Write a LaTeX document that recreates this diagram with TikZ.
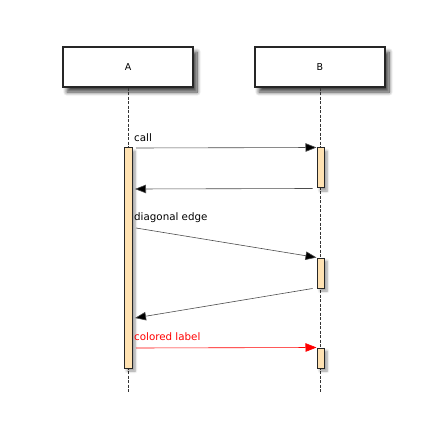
\documentclass[tikz,border=0pt]{standalone}
\usepackage{fontspec}
\setmainfont{DejaVu Sans}
\usetikzlibrary{shadows.blur,arrows.meta}
\definecolor{actfill}{RGB}{255,226,178}
\tikzset{
  objbox/.style={draw=black!85, line width=1.2pt, fill=white, minimum width=130pt, minimum height=40pt, inner sep=0pt, font=\fontsize{9.5}{11}\selectfont,
    blur shadow={shadow xshift=4pt, shadow yshift=-5pt, shadow blur radius=4pt, shadow blur steps=10, shadow opacity=75}},
  actbox/.style={draw=black!85, line width=1pt, fill=actfill, minimum width=7pt, inner sep=0pt,
    blur shadow={shadow xshift=3pt, shadow yshift=-3pt, shadow blur radius=2.5pt, shadow blur steps=6, shadow opacity=40}},
  lifeline/.style={draw=black!80, line width=0.9pt, dash pattern=on 3pt off 1.5pt},
  msg/.style={draw=black!70, line width=0.6pt, -{Triangle[length=11pt,width=8.5pt,fill=black]}},
  lbl/.style={anchor=base west, inner sep=0pt, font=\fontsize{10.3}{12}\selectfont},
}
\begin{document}
\begin{tikzpicture}[x=1pt,y=-1pt]
\useasboundingbox (0,0) rectangle (448,436);
% lifelines
\coordinate (endA) at (128,393);
\coordinate (endB) at (320,393);
\node[objbox] (A) at (128,67) {A};
\node[objbox] (B) at (320,67) {B};
\draw[lifeline] (A.south) -- (endA);
\draw[lifeline] (B.south) -- (endB);
% activations
\node[actbox, minimum width=8pt, minimum height=220pt] (actA) at (128,258) {};
\node[actbox, minimum height=40pt] (actB1) at (320.5,168) {};
\node[actbox, minimum height=30pt] (actB2) at (320.5,273) {};
\node[actbox, minimum height=20pt] (actB3) at (320.5,358) {};
% message coordinates
\coordinate (m1s) at (136,148);
\coordinate (m2e) at (135,189);
\coordinate (m3s) at (136,228);
\coordinate (m4e) at (135,318);
\coordinate (m5s) at (136,348);
\draw[msg] (m1s) -- (actB1.north west);
\draw[msg] ([xshift=-4pt]actB1.south west) -- (m2e);
\draw[msg] (m3s) -- (actB2.north west);
\draw[msg] ([xshift=-4pt]actB2.south west) -- (m4e);
\draw[msg, draw=red, -{Triangle[length=11pt,width=8.5pt,fill=red]}] (m5s) -- (actB3.north west);
% labels
\node[lbl] (l1) at (134,141.5) {call};
\node[lbl] (l2) at (134,220) {diagonal edge};
\node[lbl, text=red] (l3) at (134,340.5) {colored label};
\end{tikzpicture}
\end{document}
